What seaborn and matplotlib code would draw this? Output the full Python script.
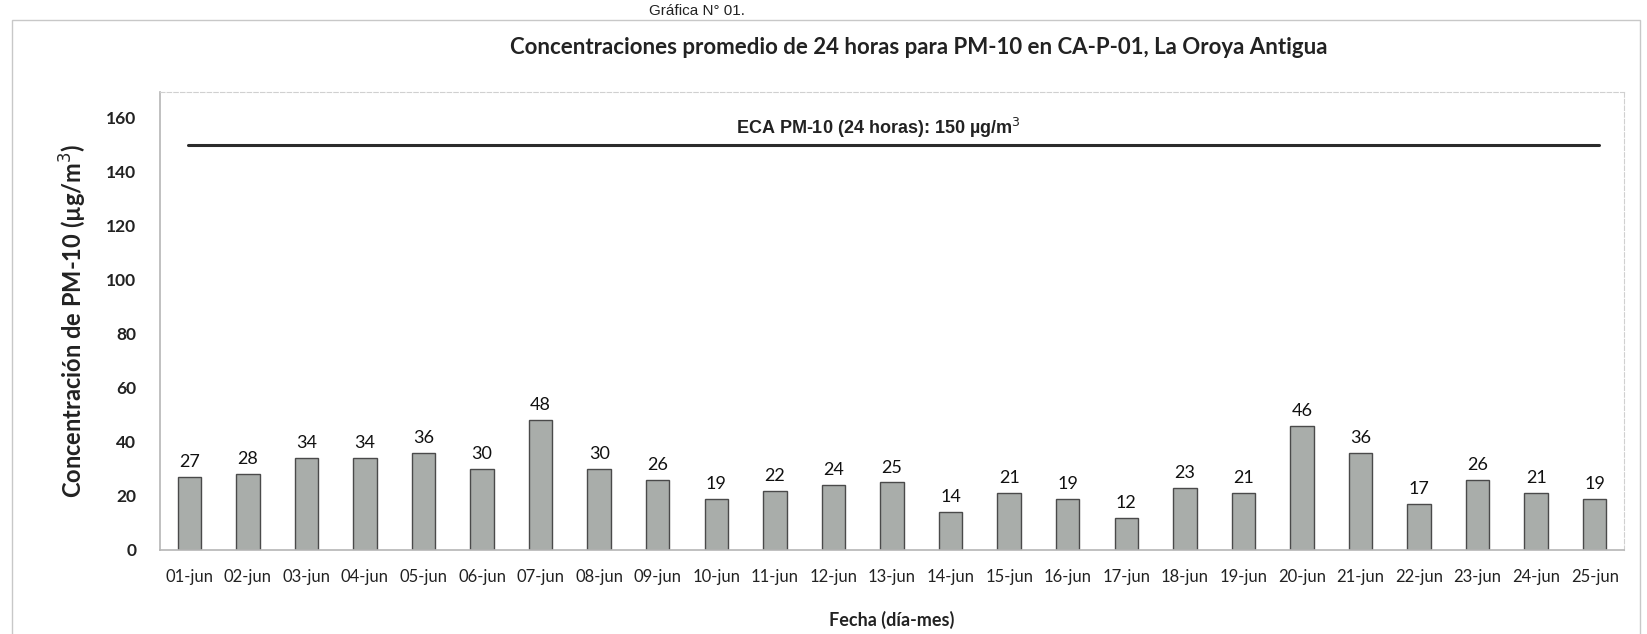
import matplotlib
matplotlib.use('Agg')
import matplotlib.pyplot as plt
import seaborn as sns
import pandas as pd
from matplotlib.patches import Rectangle

sns.set_theme(style='white')
plt.rcParams['font.family'] = ['Lato', 'DejaVu Sans']

# datos
fechas = ['01-jun', '02-jun', '03-jun', '04-jun', '05-jun', '06-jun', '07-jun', '08-jun',
          '09-jun', '10-jun', '11-jun', '12-jun', '13-jun', '14-jun', '15-jun', '16-jun',
          '17-jun', '18-jun', '19-jun', '20-jun', '21-jun', '22-jun', '23-jun', '24-jun', '25-jun']
pm10 = [27, 28, 34, 34, 36, 30, 48, 30, 26, 19, 22, 24, 25, 14, 21, 19,
        12, 23, 21, 46, 36, 17, 26, 21, 19]
eca_valor = 150
y_ticks = [0, 20, 40, 60, 80, 100, 120, 140, 160]

df = pd.DataFrame({'Fecha': fechas, 'PM10': pm10})

W, H = 1647, 634
fig = plt.figure(figsize=(W / 100, H / 100), dpi=100)
ax = fig.add_axes([160 / W, 1 - 550 / H, (1624 - 160) / W, (550 - 92) / H])

# marco del grafico
fig.patches.append(Rectangle((12 / W, -0.01), (1640 - 12) / W, 1 - 20 / H + 0.01,
                             transform=fig.transFigure, fill=False,
                             edgecolor='#c8c8c8', linewidth=1.0))
fig.text(697 / W, 1 - 15 / H, 'Gráfica N° 01.', ha='center', va='baseline',
         fontsize=11, family=['Liberation Sans', 'DejaVu Sans'], color='#222222')

sns.barplot(data=df, x='Fecha', y='PM10', ax=ax, color='#a9adaa',
            edgecolor='#4a4a4a', linewidth=1.0, width=0.4, saturation=1)

for cont in ax.containers:
    ax.bar_label(cont, fmt='%d', padding=5, fontsize=13, color='#111111')

# linea ECA
ax.plot([-0.03, 24.07], [eca_valor, eca_valor], color='#2b2b2b', linewidth=2.2)
ax.text(11.77, 156.3, 'ECA PM-10 (24 horas): 150 µg/m$^3$', ha='center',
        va='center', fontsize=13, fontweight='bold',
        family=['Liberation Sans', 'DejaVu Sans'], color='#222222')

ax.set_xlim(-0.5, 24.5)
ax.set_ylim(0, 169.6)
ax.set_yticks(y_ticks)
ax.set_yticklabels([str(v) for v in y_ticks], fontsize=12.5, fontweight='bold', color='#222222')
ax.tick_params(axis='y', pad=17, length=0)
ax.tick_params(axis='x', labelsize=12, colors='#222222', pad=14, length=0)

ax.set_xlabel('Fecha (día-mes)', fontsize=13, fontweight='bold', color='#222222', labelpad=18)
ax.set_ylabel('Concentración de PM-10 (µg/m$^3$)', fontsize=17, fontweight='bold',
              color='#222222', labelpad=12)

for s in ['left', 'bottom']:
    ax.spines[s].set_color('#b5b5b5')
    ax.spines[s].set_linewidth(1.2)
for s in ['top', 'right']:
    ax.spines[s].set_color('#d0d0d0')
    ax.spines[s].set_linewidth(0.8)
    ax.spines[s].set_linestyle((0, (4, 2)))

fig.text(919 / W, 1 - 48 / H, 'Concentraciones promedio de 24 horas para PM-10 en CA-P-01, La Oroya Antigua',
         ha='center', va='center', fontsize=16, fontweight='bold', color='#222222')

fig.savefig('out.png', dpi=100)
